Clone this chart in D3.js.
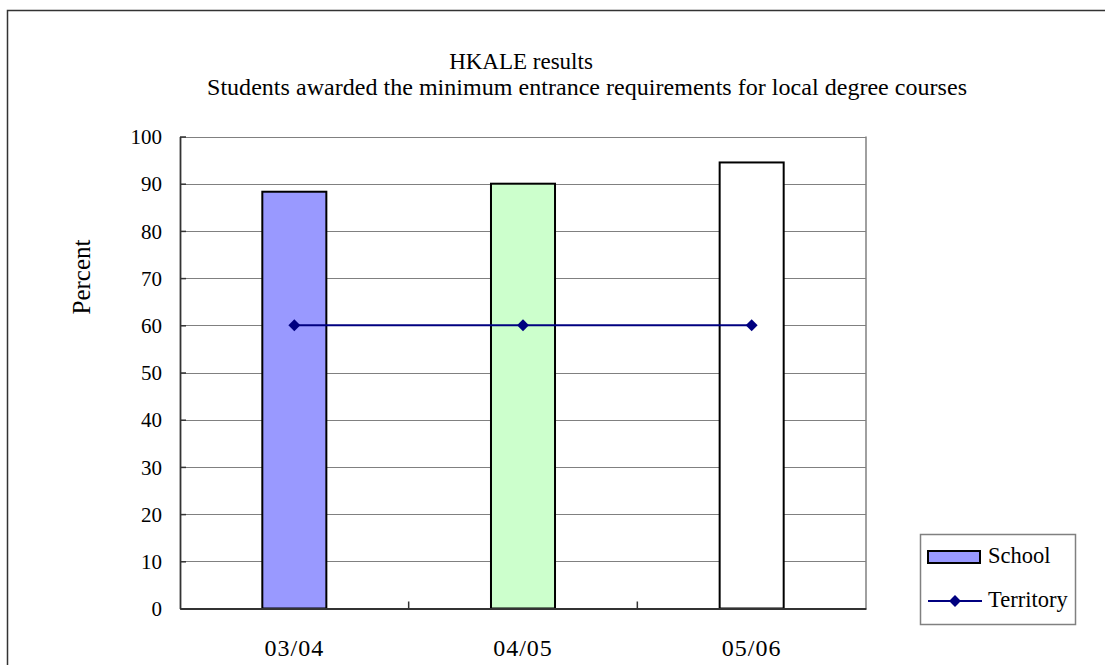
<!DOCTYPE html>
<html>
<head>
<meta charset="utf-8">
<script src="https://cdn.jsdelivr.net/npm/d3@7"></script>
<style>
  html, body { margin: 0; padding: 0; background: #fff; }
  svg { display: block; }
  text { font-family: "Liberation Serif", "Times New Roman", serif; fill: #000; }
</style>
</head>
<body>
<svg id="chart" width="1105" height="665"></svg>
<script>
// Academic years
const categories = ["03/04", "04/05", "05/06"];
// Percentage of school candidates meeting the requirements
const schoolValues = [88.3, 90.0, 94.5];
// Territory-wide percentage
const territoryValues = [60, 60, 60];
// Per-year bar fills
const barColors = ["#9999FF", "#CCFFCC", "#FFFFFF"];
const yTicks = [0, 10, 20, 30, 40, 50, 60, 70, 80, 90, 100];
const titleLines = ["HKALE results", "Students awarded the minimum entrance requirements for local degree courses"];
const legendLabels = ["School", "Territory"];

const svg = d3.select("#chart");
const plot = { left: 180, right: 866, top: 136.5, bottom: 608.5 };

// Outer chart frame (continues past the window edge)
svg.append("path")
  .attr("d", "M7.5,1000 L7.5,10.5 L1200,10.5")
  .attr("fill", "none").attr("stroke", "#333").attr("stroke-width", 1.5);

const x = d3.scaleBand().domain(categories).range([plot.left, plot.right]).padding(0);
const y = d3.scaleLinear().domain([0, 100]).range([plot.bottom, plot.top]);

// Horizontal gridlines
svg.append("g").selectAll("line").data(yTicks.filter(d => d > 0)).join("line")
  .attr("x1", plot.left).attr("x2", plot.right)
  .attr("y1", d => Math.round(y(d)) + 0.5).attr("y2", d => Math.round(y(d)) + 0.5)
  .attr("stroke", "#808080").attr("stroke-width", 1.2);

// Right edge of the plot area
svg.append("line")
  .attr("x1", plot.right).attr("x2", plot.right)
  .attr("y1", plot.top).attr("y2", plot.bottom)
  .attr("stroke", "#808080").attr("stroke-width", 1.5);

// Bars
const barW = x.step() * 0.28;
svg.append("g").selectAll("rect").data(categories).join("rect")
  .attr("x", d => x(d) + x.bandwidth() / 2 - barW / 2)
  .attr("y", (d, i) => y(schoolValues[i]))
  .attr("width", barW)
  .attr("height", (d, i) => y(0) - y(schoolValues[i]))
  .attr("fill", (d, i) => barColors[i])
  .attr("stroke", "#000").attr("stroke-width", 2);

// Y axis
const yAxis = svg.append("g")
  .attr("transform", `translate(${plot.left},0)`)
  .call(d3.axisLeft(y).tickValues(yTicks).tickSizeInner(-6).tickSizeOuter(0).tickPadding(18));
yAxis.select(".domain").attr("stroke", "#333").attr("stroke-width", 1.8);
yAxis.selectAll(".tick line").attr("stroke", "#333").attr("stroke-width", 1.5);
yAxis.selectAll(".tick text")
  .attr("font-size", 21).attr("font-family", "Liberation Serif").attr("fill", "#000")
  .attr("dy", "0.34em");

// X axis
const xAxis = svg.append("g")
  .attr("transform", `translate(0,${plot.bottom})`)
  .call(d3.axisBottom(x).tickSize(0).tickPadding(0));
xAxis.select(".domain").attr("stroke", "#333").attr("stroke-width", 2);
xAxis.selectAll(".tick text")
  .attr("font-size", 24).attr("font-family", "Liberation Serif").attr("fill", "#000")
  .attr("y", 47).attr("dy", 0).attr("letter-spacing", 1);
// Category divider ticks
svg.append("g").selectAll("line").data(categories.slice(1)).join("line")
  .attr("x1", d => x(d)).attr("x2", d => x(d))
  .attr("y1", plot.bottom - 7).attr("y2", plot.bottom)
  .attr("stroke", "#333").attr("stroke-width", 1.5);

// Territory line with diamond markers
const cx = (d, i) => x(categories[i]) + x.bandwidth() / 2;
const line = d3.line().x((d, i) => cx(d, i)).y(d => y(d));
svg.append("path").datum(territoryValues)
  .attr("d", line).attr("fill", "none").attr("stroke", "#000080").attr("stroke-width", 2);
const diamond = d3.symbol().type(d3.symbolDiamond2).size(90);
svg.append("g").selectAll("path").data(territoryValues).join("path")
  .attr("transform", (d, i) => `translate(${cx(d, i)},${y(d)})`)
  .attr("d", diamond).attr("fill", "#000080");

// Titles
svg.append("text")
  .attr("x", 521).attr("y", 69)
  .attr("text-anchor", "middle").attr("font-size", 23)
  .text(titleLines[0]);
svg.append("text")
  .attr("x", 207).attr("y", 95)
  .attr("font-size", 24).attr("textLength", 760).attr("lengthAdjust", "spacing")
  .text(titleLines[1]);

// Y axis title
svg.append("text")
  .attr("transform", "translate(90,277) rotate(-90)")
  .attr("text-anchor", "middle").attr("font-size", 25)
  .text("Percent");

// Legend
const lg = svg.append("g");
lg.append("rect").attr("x", 920.5).attr("y", 534.5).attr("width", 155).attr("height", 90)
  .attr("fill", "#fff").attr("stroke", "#808080").attr("stroke-width", 1.5);
lg.append("rect").attr("x", 928).attr("y", 551).attr("width", 52).attr("height", 12)
  .attr("fill", barColors[0]).attr("stroke", "#000").attr("stroke-width", 2);
lg.append("line").attr("x1", 928).attr("x2", 982).attr("y1", 601).attr("y2", 601)
  .attr("stroke", "#000080").attr("stroke-width", 2);
lg.append("path").attr("transform", "translate(955,601)").attr("d", diamond).attr("fill", "#000080");
lg.selectAll("text.lab").data(legendLabels).join("text").attr("class", "lab")
  .attr("x", 988).attr("y", (d, i) => 563 + i * 44)
  .attr("font-size", 22.5)
  .text(d => d);
</script>
</body>
</html>
